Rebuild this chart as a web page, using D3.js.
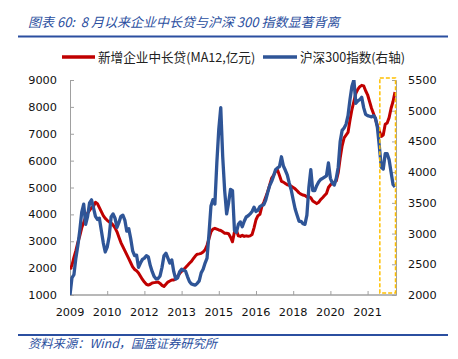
<!DOCTYPE html>
<html><head><meta charset="utf-8">
<script src="https://cdn.jsdelivr.net/npm/d3@7"></script>
<style>
html,body{margin:0;padding:0;background:#fff;}
svg{display:block;}
</style></head>
<body>
<script>
// Monthly points, Jan 2009 .. Nov 2022
const startYear = 2009;
const tickEvery = 19; // months between category ticks
const loans = [1950,2100,2400,2650,2950,3200,3500,3700,3900,4050,4150,4250,4300,4450,4400,4250,4100,3950,3850,3780,
3720,3680,3600,3500,3350,3150,2950,2800,2650,2500,2350,2200,2050,1950,1900,1820,1700,1580,1480,1400,
1370,1400,1450,1460,1470,1480,1430,1360,1320,1400,1480,1520,1560,1560,1600,1700,1800,1880,1950,2020,
2100,2180,2250,2350,2450,2520,2530,2550,2600,2680,2850,3100,3350,3450,3480,3450,3420,3400,3350,3300,
3300,3280,3150,2980,3350,3400,3200,3180,3220,3180,3200,3190,3200,3250,3500,3800,3950,4000,4300,4450,
4650,4850,5100,5350,5450,5600,5650,5450,5230,5200,5150,5100,5080,5050,5000,4950,4880,4800,4750,4720,
4700,4650,4660,4620,4500,4450,4400,4450,4550,4620,4700,4780,5000,5100,5150,5200,5250,5550,6100,6550,
6850,6950,7050,7500,7900,8200,8500,8650,8750,8800,8780,8600,8450,8200,7950,7750,7550,7300,7100,6900,
6950,7350,7400,7600,7950,8200,8550];
const csi300 = [2000,2280,2330,2600,2800,3050,3350,3480,3150,3280,3500,3550,3420,3280,3230,3250,3050,2850,2700,2780,
2950,3270,3320,3250,3100,3180,3280,3300,3220,3040,3080,2920,2720,2640,2650,2450,2520,2580,2600,2640,
2620,2480,2380,2300,2260,2270,2310,2450,2640,2680,2600,2520,2570,2380,2260,2280,2380,2420,2400,2390,
2300,2220,2180,2170,2160,2190,2230,2360,2420,2520,2600,3000,3450,3550,3480,4150,4700,5050,4250,3700,
3320,3500,3720,3700,3050,3020,3150,3190,3110,3200,3270,3290,3320,3360,3430,3360,3380,3440,3460,3470,
3550,3670,3780,3850,3940,4040,4070,4090,4250,4100,4030,3950,3820,3710,3550,3400,3300,3200,3200,3160,
3150,3300,3750,4040,3700,3700,3780,3840,3880,3900,3920,3940,4150,3900,3820,3790,3900,4080,4500,4680,
4720,4780,4920,5180,5400,5500,5120,5160,5180,5220,5050,4940,4920,4910,4900,4920,4880,4730,4420,4080,
4050,4300,4300,4200,4000,3800,3760];
const leftTicks = [1000,2000,3000,4000,5000,6000,7000,8000,9000];
const rightTicks = [2000,2500,3000,3500,4000,4500,5000,5500];
const seriesNames = ["新增企业中长贷(MA12,亿元)", "沪深300指数(右轴)"];
const titleText = "图表 60:  8 月以来企业中长贷与沪深 300 指数显著背离";
const sourceText = "资料来源：Wind，国盛证券研究所";
const highlightFrom = 158, highlightTo = 166; // months in the dashed box

(function () {
const W = 458, H = 359;
const pL = 70, pR = 396, pT = 80, pB = 295;
const red = "#C00000", blue = "#2F5597", theme = "#2B4FA0";
const svg = d3.select("body").append("svg").attr("width", W).attr("height", H);

const N = loans.length;
const x = d3.scaleLinear().domain([0, N - 1]).range([pL, pR - 1]);
const yL = d3.scaleLinear().domain([1000, 9000]).range([pB, pT]);
const yR = d3.scaleLinear().domain([2000, 5500]).range([pB, pT]);

// title
svg.append("text").attr("x", 28).attr("y", 27).attr("fill", theme)
  .attr("font-family", "Noto Sans CJK SC").attr("font-style", "italic")
  .attr("font-size", 13).style("white-space", "pre").text(titleText);
svg.append("line").attr("x1", 18).attr("x2", 448).attr("y1", 36.5).attr("y2", 36.5)
  .attr("stroke", theme).attr("stroke-width", 1.8);

// legend
const lg = svg.append("g").attr("font-family", "Noto Sans CJK SC").attr("font-size", 12.6).attr("fill", "#222");
lg.append("line").attr("x1", 62).attr("x2", 95).attr("y1", 57).attr("y2", 57).attr("stroke", red).attr("stroke-width", 3.5);
lg.append("text").attr("x", 98).attr("y", 62).text(seriesNames[0]);
lg.append("line").attr("x1", 263).attr("x2", 297).attr("y1", 57).attr("y2", 57).attr("stroke", blue).attr("stroke-width", 3.5);
lg.append("text").attr("x", 300).attr("y", 62).text(seriesNames[1]);

// axes
const axisColor = "#a0a0a0";
const fontAx = "DejaVu Sans";
const gl = svg.append("g").attr("transform", `translate(${pL},0)`)
  .call(d3.axisRight(yL).tickValues(leftTicks).tickSize(4).tickFormat(d3.format("d")));
gl.selectAll("text").remove();
svg.append("g").selectAll("text").data(leftTicks).join("text")
  .attr("x", 57).attr("y", d => yL(d)).attr("dy", "0.36em").attr("text-anchor", "end")
  .attr("font-family", fontAx).attr("font-size", 11.3).attr("fill", "#111").text(d => d);

const gr = svg.append("g").attr("transform", `translate(${pR},0)`)
  .call(d3.axisLeft(yR).tickValues(rightTicks).tickSize(4));
gr.selectAll("text").remove();
svg.append("g").selectAll("text").data(rightTicks).join("text")
  .attr("x", 408).attr("y", d => yR(d)).attr("dy", "0.36em").attr("text-anchor", "start")
  .attr("font-family", fontAx).attr("font-size", 11.3).attr("fill", "#111").text(d => d);

const xTicks = d3.range(0, N, tickEvery);
const gx = svg.append("g").attr("transform", `translate(0,${pB})`)
  .call(d3.axisTop(x).tickValues(xTicks).tickSize(4).tickFormat(""));
gx.select(".domain").attr("d", `M${pL},0H${pR}`);
svg.append("g").selectAll("text").data(xTicks).join("text")
  .attr("x", d => x(d)).attr("y", 312).attr("dy", "0.36em").attr("text-anchor", "middle")
  .attr("font-family", fontAx).attr("font-size", 11.3).attr("fill", "#111")
  .text(d => Math.floor(startYear + d / 12));
[gl, gr, gx].forEach(g => { g.selectAll("path,line").attr("stroke", axisColor).attr("stroke-width", 1); });
gx.select(".domain").attr("stroke-width", 1.5);

// clip
svg.append("clipPath").attr("id", "clip").append("rect")
  .attr("x", pL).attr("y", pT).attr("width", pR - pL).attr("height", pB - pT);

// lines
const lineL = d3.line().x((d, i) => x(i)).y(d => yL(d));
const lineR = d3.line().x((d, i) => x(i)).y(d => yR(d));
svg.append("path").datum(loans).attr("d", lineL).attr("fill", "none")
  .attr("stroke", red).attr("stroke-width", 3).attr("stroke-linejoin", "round").attr("clip-path", "url(#clip)");
svg.append("path").datum(csi300).attr("d", lineR).attr("fill", "none")
  .attr("stroke", blue).attr("stroke-width", 3.3).attr("stroke-linejoin", "round").attr("clip-path", "url(#clip)");

// highlight box
svg.append("rect").attr("x", x(highlightFrom) + 0.5).attr("y", 78)
  .attr("width", x(highlightTo) - x(highlightFrom)).attr("height", 215)
  .attr("fill", "none").attr("stroke", "#FFC000").attr("stroke-width", 1.5).attr("stroke-dasharray", "4,2");

// footer
svg.append("line").attr("x1", 18).attr("x2", 448).attr("y1", 335).attr("y2", 335)
  .attr("stroke", theme).attr("stroke-width", 1.8);
svg.append("text").attr("x", 28).attr("y", 348).attr("fill", theme)
  .attr("font-family", "Noto Sans CJK SC").attr("font-style", "italic")
  .attr("font-size", 12.3).text(sourceText);
})();
</script>
</body></html>
